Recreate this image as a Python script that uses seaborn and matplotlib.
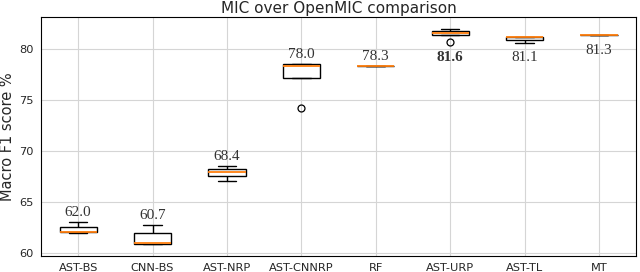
"""
Box plot of MIC results over OpenMIC
"""
import numpy as np
import pandas as pd
import matplotlib
matplotlib.use("Agg")
import matplotlib.pyplot as plt
import seaborn as sns

models = ["AST-BS", "CNN-BS", "AST-NRP", "AST-CNNRP", "RF", "AST-URP", "AST-TL", "MT"]

# macro F1 per run (%)
ast_bs = [61.95, 62.0, 62.03, 62.52, 63.07]
cnn_bs = [60.85, 60.88, 61.01, 61.93, 62.75]
ast_nrp = [67.0, 67.55, 67.97, 68.24, 68.53]
ast_cnnrp = [74.18, 77.09, 78.27, 78.5, 78.5]
rf = [78.3, 78.3, 78.3, 78.3, 78.3]
ast_urp = [80.62, 81.34, 81.5, 81.7, 81.96]
ast_tl = [80.59, 80.82, 81.12, 81.15, 81.15]
mt = [81.3, 81.3, 81.3, 81.3, 81.3]

score_labels = ["62.0", "60.7", "68.4", "78.0", "78.3", "81.6", "81.1", "81.3"]
label_below = [False, False, False, False, False, True, True, True]
label_bold = [False, False, False, False, False, True, False, False]

runs = [ast_bs, cnn_bs, ast_nrp, ast_cnnrp, rf, ast_urp, ast_tl, mt]
df = pd.DataFrame({
    "model": np.repeat(models, [len(r) for r in runs]),
    "score": np.concatenate(runs),
})

sns.set_style("whitegrid")
plt.rcParams["font.family"] = ["DejaVu Sans"]

fig, ax = plt.subplots(figsize=(6.4, 2.72), dpi=100)
fig.subplots_adjust(left=0.064, right=0.994, top=0.9375, bottom=0.059)

sns.boxplot(
    data=df, x="model", y="score", order=models, width=0.5, ax=ax,
    linewidth=1.0,
    boxprops=dict(facecolor="white", edgecolor="black"),
    medianprops=dict(color="#ff7f0e", linewidth=1.3),
    whiskerprops=dict(color="black"),
    capprops=dict(color="black"),
    flierprops=dict(marker="o", markerfacecolor="none", markeredgecolor="black",
                    markersize=5, markeredgewidth=0.9),
)

for i, (r, lab) in enumerate(zip(runs, score_labels)):
    if label_below[i]:
        ax.annotate(lab, (i, min(r)), xytext=(0, -6), textcoords="offset points",
                    ha="center", va="top", fontsize=11, family="Liberation Serif",
                    fontweight="bold" if label_bold[i] else "normal", color="#333333")
    else:
        ax.annotate(lab, (i, max(r)), xytext=(0, 2), textcoords="offset points",
                    ha="center", va="bottom", fontsize=11, family="Liberation Serif",
                    color="#333333")

ax.set_xlim(-0.5, 7.5)
ax.set_ylim(59.7, 83.1)
ax.set_yticks([60, 65, 70, 75, 80])
ax.set_xlabel("")
ax.set_ylabel("Macro F1 score %", fontsize=10.5, labelpad=3)
ax.set_title("MIC over OpenMIC comparison", fontsize=11, pad=3)
ax.tick_params(axis="both", labelsize=8.2, length=3, width=0.8, pad=2, color="black")
ax.grid(True, color="#d5d5d5", linewidth=0.8)
for s in ax.spines.values():
    s.set_color("black")
    s.set_linewidth(0.8)

plt.savefig("out.png", dpi=100)
